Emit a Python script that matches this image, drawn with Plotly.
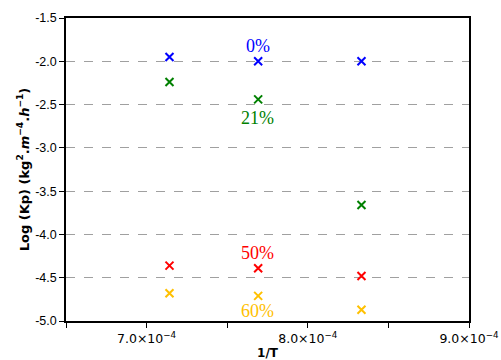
import plotly.graph_objects as go

inv_T = [7.142e-4, 7.692e-4, 8.333e-4]
series_names = ["0%", "21%", "50%", "60%"]
series_colors = ["#0000ff", "#008000", "#ff0000", "#ffc000"]
log_kp = {
    "0%":  [-1.95, -2.00, -2.00],
    "21%": [-2.24, -2.44, -3.66],
    "50%": [-4.36, -4.39, -4.48],
    "60%": [-4.68, -4.71, -4.87],
}
label_pos = {
    "0%":  (7.69e-4, -1.82),
    "21%": (7.69e-4, -2.65),
    "50%": (7.69e-4, -4.22),
    "60%": (7.69e-4, -4.88),
}
x_tickvals = [6.5e-4, 7.0e-4, 7.5e-4, 8.0e-4, 8.5e-4, 9.0e-4]
x_ticktext = ["", "7.0×10<sup>−4</sup>", "", "8.0×10<sup>−4</sup>", "", "9.0×10<sup>−4</sup>"]
y_tickvals = [-5.0, -4.5, -4.0, -3.5, -3.0, -2.5, -2.0, -1.5]
y_ticktext = ["-5.0", "-4.5", "-4.0", "-3.5", "-3.0", "-2.5", "-2.0", "-1.5"]

fig = go.Figure()
for name, color in zip(series_names, series_colors):
    fig.add_trace(go.Scatter(
        x=inv_T, y=log_kp[name], mode="markers", name=name,
        marker=dict(symbol="x-thin", size=8, color=color,
                    line=dict(color=color, width=2)),
        showlegend=False,
    ))
    lx, ly = label_pos[name]
    fig.add_annotation(x=lx, y=ly, text=name, showarrow=False,
                       font=dict(family="Liberation Serif", size=18, color=color))

fig.update_layout(
    width=501, height=360,
    margin=dict(l=66, r=32, t=18, b=39, autoexpand=False),
    plot_bgcolor="white", paper_bgcolor="white",
    xaxis=dict(
        range=[6.5e-4, 9.0e-4], tickvals=x_tickvals, ticktext=x_ticktext,
        ticks="outside", ticklen=5, tickwidth=1.2, tickcolor="black",
        showline=True, linecolor="black", linewidth=1.5, mirror=True,
        showgrid=False, zeroline=False, automargin=False,
        tickfont=dict(family="DejaVu Sans", size=12.5, color="black"),
        title=dict(text="<b>1/T</b>", font=dict(family="DejaVu Sans", size=12, color="black"),
                   standoff=2),
    ),
    yaxis=dict(
        range=[-5.0, -1.5], tickvals=y_tickvals, ticktext=y_ticktext,
        ticks="outside", ticklen=5, tickwidth=1.2, tickcolor="black",
        showline=True, linecolor="black", linewidth=1.5, mirror=True,
        showgrid=True, gridcolor="#a0a0a0", griddash="dash", gridwidth=1,
        zeroline=False, automargin=False,
        tickfont=dict(family="Liberation Sans", size=12.5, color="black"),
        title=dict(text="<b>Log (Kp) (kg<sup>2</sup>.<i>m</i><sup>−4</sup>.<i>h</i><sup>−1</sup>)</b>",
                   font=dict(family="DejaVu Sans", size=13, color="black"), standoff=3),
    ),
)

fig.write_html("out.html", config={"displayModeBar": False},
               post_script="document.body.style.margin='0';document.body.style.overflow='hidden';")
